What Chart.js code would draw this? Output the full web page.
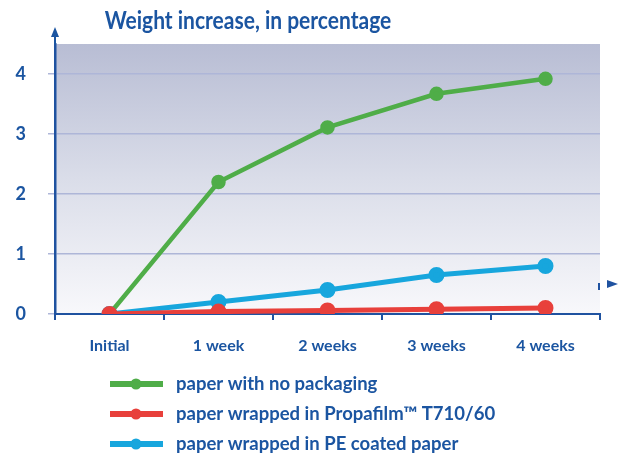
<!DOCTYPE html>
<html><head><meta charset="utf-8">
<script src="https://cdn.jsdelivr.net/npm/chart.js@4/dist/chart.umd.min.js"></script>
<style>html,body{margin:0;padding:0;background:#fff}#w{width:625px;height:455px}</style>
</head><body><div id="w"><canvas id="c" width="625" height="455"></canvas></div>
<script>
const title = "Weight increase, in percentage";
const categories = ["Initial", "1 week", "2 weeks", "3 weeks", "4 weeks"];
const noPackaging = [0, 2.2, 3.11, 3.67, 3.92];
const propafilm = [0, 0.04, 0.06, 0.08, 0.1];
const peCoated = [0, 0.2, 0.4, 0.65, 0.8];
const seriesLabels = ["paper with no packaging", "paper wrapped in Propafilm\u2122 T710/60", "paper wrapped in PE coated paper"];
const yTicks = [0, 1, 2, 3, 4];

const TXT = '#1b55a1';
const AX = '#1f52a0';
const FONT = 'Lato, "Open Sans", sans-serif';

const deco = {
  id: 'deco',
  beforeDraw(chart) {
    const {ctx, chartArea: a} = chart;
    const g = ctx.createLinearGradient(0, a.top, 0, a.bottom);
    g.addColorStop(0, '#b8bdd4');
    g.addColorStop(0.5, '#dadde9');
    g.addColorStop(1, '#f8f8fb');
    ctx.save();
    ctx.fillStyle = g;
    ctx.fillRect(a.left, a.top, a.right - a.left, a.bottom - a.top);
    ctx.restore();
  },
  afterDraw(chart) {
    const {ctx, chartArea: a} = chart;
    ctx.save();
    // title
    ctx.fillStyle = TXT;
    ctx.font = 'bold 25px ' + FONT;
    ctx.textBaseline = 'middle';
    ctx.textAlign = 'center';
    ctx.save();
    ctx.translate(248, 21);
    ctx.scale(0.84, 1);
    ctx.fillText(title, 0, 0);
    ctx.restore();
    // y arrow
    ctx.beginPath();
    ctx.moveTo(a.left - 4, 37); ctx.lineTo(a.left + 4, 37); ctx.lineTo(a.left, 27); ctx.closePath();
    ctx.fill();
    ctx.fillRect(a.left - 1, 34, 2, a.top - 34);
    // x arrow
    ctx.fillStyle = AX;
    ctx.fillRect(a.right - 2, 283, 2, 7);
    ctx.beginPath();
    ctx.moveTo(607, 280); ctx.lineTo(618, 284); ctx.lineTo(607, 288); ctx.closePath();
    ctx.fill();
    // legend
    const ds = chart.data.datasets;
    ctx.font = 'bold 18.5px ' + FONT;
    ctx.textAlign = 'left';
    ds.forEach((d, i) => {
      const y = 384 + i * 30;
      ctx.strokeStyle = d.borderColor;
      ctx.fillStyle = d.borderColor;
      ctx.lineWidth = 6;
      ctx.beginPath(); ctx.moveTo(110, y); ctx.lineTo(163, y); ctx.stroke();
      ctx.beginPath(); ctx.arc(136, y, 5.5, 0, Math.PI * 2); ctx.fill();
      ctx.fillStyle = TXT;
      ctx.fillText(d.label, 176, y);
    });
    ctx.restore();
  }
};

new Chart(document.getElementById('c'), {
  type: 'line',
  data: {
    labels: categories,
    datasets: [
      {label: seriesLabels[0], data: noPackaging, borderColor: '#4fad48', backgroundColor: '#4fad48', borderWidth: 4.5, pointRadius: 5, order: 3},
      {label: seriesLabels[1], data: propafilm, borderColor: '#e8403b', backgroundColor: '#e8403b', borderWidth: 5, pointRadius: 5.5, order: 1},
      {label: seriesLabels[2], data: peCoated, borderColor: '#17a6dd', backgroundColor: '#17a6dd', borderWidth: 5, pointRadius: 5.5, order: 2}
    ]
  },
  options: {
    responsive: false,
    animation: false,
    layout: {padding: {top: 44, right: 25, bottom: 101, left: 0}},
    plugins: {legend: {display: false}, title: {display: false}, tooltip: {enabled: false}},
    scales: {
      x: {
        offset: true,
        grid: {offset: true, drawOnChartArea: false, tickLength: 6, color: AX, lineWidth: 2},
        border: {color: AX, width: 2},
        ticks: {color: TXT, font: {family: FONT, size: 16, weight: 'bold'}, padding: 16},
        afterFit(s) { s.height = 40; }
      },
      y: {
        min: 0, max: 4.5,
        afterBuildTicks(s) { s.ticks = yTicks.map(v => ({value: v})); },
        grid: {color: '#aeb6d8', lineWidth: 1.5, tickLength: 7},
        border: {color: AX, width: 2.5},
        ticks: {color: TXT, font: {family: FONT, size: 18, weight: 'bold'}, padding: 22},
        afterFit(s) { s.width = 55; }
      }
    }
  },
  plugins: [deco]
});
</script>
</body></html>
